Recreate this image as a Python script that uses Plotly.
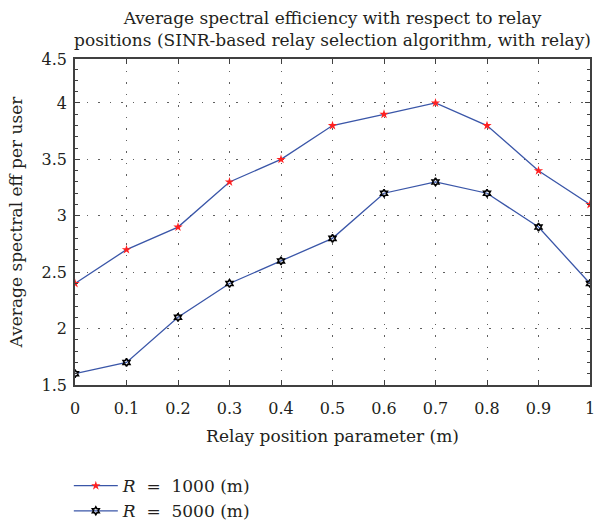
import plotly.graph_objects as go

relay_pos = [0, 0.1, 0.2, 0.3, 0.4, 0.5, 0.6, 0.7, 0.8, 0.9, 1.0]
se_r1000 = [2.4, 2.7, 2.9, 3.3, 3.5, 3.8, 3.9, 4.0, 3.8, 3.4, 3.1]
se_r5000 = [1.6, 1.7, 2.1, 2.4, 2.6, 2.8, 3.2, 3.3, 3.2, 2.9, 2.4]
x_ticks = [0, 0.1, 0.2, 0.3, 0.4, 0.5, 0.6, 0.7, 0.8, 0.9, 1]
x_ticktext = ["0", "0.1", "0.2", "0.3", "0.4", "0.5", "0.6", "0.7", "0.8", "0.9", "1"]
y_ticks = [1.5, 2, 2.5, 3, 3.5, 4, 4.39]
y_ticktext = ["1.5", "2", "2.5", "3", "3.5", "4", "4.5"]

FONT = "DejaVu Serif"
TXT = "#231f20"
LINE = "#3a56a8"

fig = go.Figure()
fig.add_trace(go.Scatter(
    x=relay_pos, y=se_r1000, mode="lines+markers",
    name="<i>R</i>  =  1000 (m)",
    line=dict(color=LINE, width=1.3),
    marker=dict(symbol="star", size=7, color="#ff2020", line=dict(width=0)),
))
fig.add_trace(go.Scatter(
    x=relay_pos, y=se_r5000, mode="lines+markers",
    name="<i>R</i>  =  5000 (m)",
    line=dict(color=LINE, width=1.3),
    marker=dict(symbol="hexagram-open", size=6, color="#000000", line=dict(width=1.6, color="#000000")),
))

axis_common = dict(
    showline=True, linecolor="#404040", linewidth=1.5, mirror="ticks",
    ticks="inside", ticklen=5, tickcolor="#404040", tickwidth=1,
    showgrid=True, gridcolor="#606060", gridwidth=1, griddash="1.5px,10px",
    zeroline=False, tickfont=dict(family=FONT, size=16, color=TXT),
    ticklabeloverflow="allow",
)

fig.update_xaxes(
    range=[0, 1], tickvals=x_ticks, ticktext=x_ticktext, ticklabelstandoff=8,
    title=dict(text="Relay position parameter (m)", font=dict(family=FONT, size=17, color=TXT), standoff=13),
    **axis_common,
)
fig.update_yaxes(
    range=[1.5, 4.39], tickvals=y_ticks, ticktext=y_ticktext, ticklabelstandoff=3,
    minor=dict(ticks="inside", ticklen=3, tickcolor="#404040", dtick=0.1, tick0=1.5, showgrid=False),
    title=dict(text="Average spectral eff per user", font=dict(family=FONT, size=17, color=TXT), standoff=15),
    **axis_common,
)

fig.update_layout(
    width=597, height=531,
    margin=dict(l=75, r=2, t=59, b=141),
    paper_bgcolor="white", plot_bgcolor="white",
    title=dict(
        text="Average spectral efficiency with respect to relay<br>positions (SINR-based relay selection algorithm, with relay)",
        font=dict(family=FONT, size=17, color=TXT),
        xref="paper", x=0.5, xanchor="center", yref="container", y=0.955, yanchor="top",
    ),
    showlegend=True,
    legend=dict(
        x=-0.012, y=-0.255, xanchor="left", yanchor="top",
        font=dict(family=FONT, size=17, color=TXT),
        bgcolor="rgba(0,0,0,0)", tracegroupgap=0, itemwidth=44,
    ),
    font=dict(family=FONT, color=TXT),
)

fig.write_html("out.html")
